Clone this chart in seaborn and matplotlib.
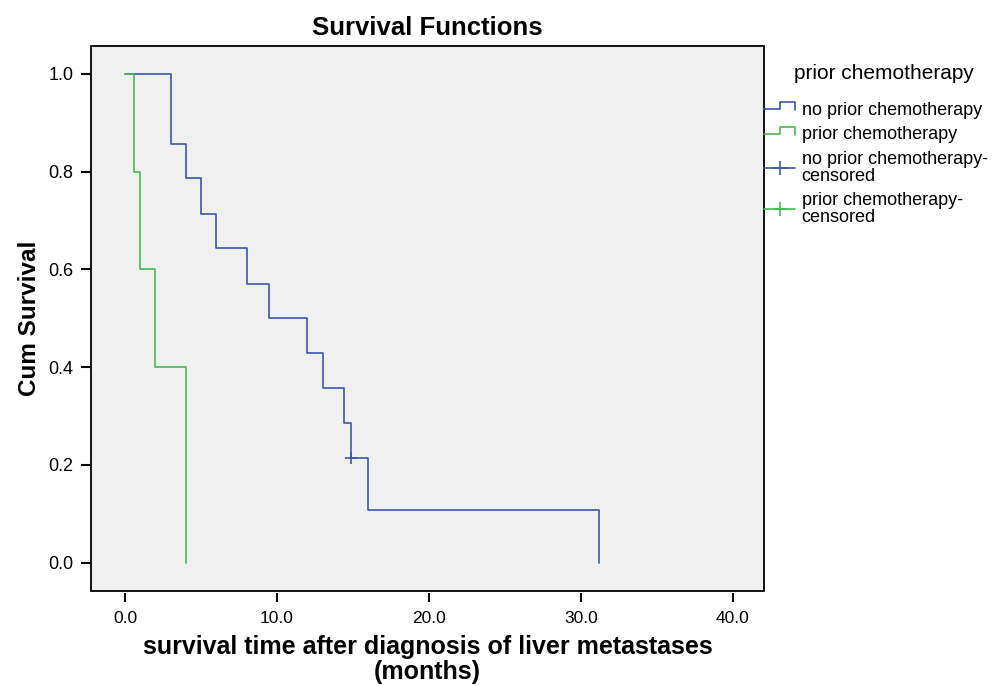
import pandas as pd
import seaborn as sns
import matplotlib.pyplot as plt
from matplotlib.lines import Line2D
from matplotlib.patches import Rectangle
from matplotlib.legend_handler import HandlerBase

# Kaplan-Meier step values
no_prior_time = [0, 3, 4, 5, 6, 8, 9.5, 12, 13, 14.4, 14.9, 16, 31.2]
no_prior_surv = [1.0, 0.857, 0.786, 0.714, 0.643, 0.571, 0.5, 0.429, 0.357, 0.286, 0.214, 0.107, 0.0]
prior_time = [0, 0.6, 1, 2, 4]
prior_surv = [1.0, 0.8, 0.6, 0.4, 0.0]
censor_time = [14.9]
censor_surv = [0.214]

groups = ["no prior chemotherapy", "prior chemotherapy"]
x_ticks = [0, 10, 20, 30, 40]
y_ticks = [0.0, 0.2, 0.4, 0.6, 0.8, 1.0]

blue = "#3d56b2"
green = "#45bb55"

df = pd.concat([
    pd.DataFrame({"time": no_prior_time, "surv": no_prior_surv, "group": groups[0]}),
    pd.DataFrame({"time": prior_time, "surv": prior_surv, "group": groups[1]}),
], ignore_index=True)

sns.set_style("ticks")
plt.rcParams["font.family"] = ["Liberation Sans", "DejaVu Sans"]
plt.rcParams.update({"text.color": "black", "axes.labelcolor": "black",
                     "xtick.color": "black", "ytick.color": "black"})

fig = plt.figure(figsize=(10.05, 6.86), dpi=100)
ax = fig.add_axes([0.0905, 0.139, 0.6695, 0.794])
ax.set_facecolor("#f0f0f0")

sns.lineplot(data=df, x="time", y="surv", hue="group",
             palette={groups[0]: blue, groups[1]: green},
             estimator=None, sort=False, drawstyle="steps-post",
             linewidth=1.2, legend=False, ax=ax)
sns.scatterplot(x=censor_time, y=censor_surv, marker="+", s=64,
                color=blue, linewidth=1.2, ax=ax, zorder=3)

ax.set_xlim(-2.24, 42.04)
ax.set_ylim(-0.057, 1.057)
ax.set_xticks(x_ticks)
ax.set_xticklabels([f"{t:.1f}" for t in x_ticks])
ax.set_yticks(y_ticks)
ax.set_yticklabels([f"{t:.1f}" for t in y_ticks])
ax.tick_params(axis="y", labelsize=13, length=7.2, width=1.5, pad=5.5)
ax.tick_params(axis="x", labelsize=12.5, length=6.5, width=1.5, pad=6.5)

# frame drawn as a patch so the x ticks can sit slightly below it
for s in ax.spines.values():
    s.set_visible(False)
ax.spines["bottom"].set_position(("outward", 2))
ax.add_patch(Rectangle((0, 0), 1, 1, transform=ax.transAxes, fill=False,
                       lw=1.3, ec="black", clip_on=False, zorder=5))

ax.set_title("Survival Functions", fontsize=18.5, fontweight="bold", pad=8)
ax.set_xlabel("survival time after diagnosis of liver metastases\n(months)",
              fontsize=18, fontweight="bold", labelpad=6, linespacing=1.08)
ax.set_ylabel("Cum Survival", fontsize=17.5, fontweight="bold", labelpad=5)


class StepHandler(HandlerBase):
    def create_artists(self, legend, orig_handle, xd, yd, w, h, fontsize, trans):
        c = orig_handle.get_color()
        xs = [-xd, -xd + 0.5 * w, -xd + 0.5 * w, -xd + w, -xd + w]
        ys = [-yd + 0.42 * h, -yd + 0.42 * h, -yd + 0.98 * h, -yd + 0.98 * h, -yd + 0.35 * h]
        ln = Line2D(xs, ys, color=c, linewidth=1.2, transform=trans)
        return [ln]


h_blue = Line2D([], [], color=blue)
h_green = Line2D([], [], color=green)
h_cblue = Line2D([], [], color=blue, marker="+", markersize=10,
                 markeredgewidth=1.2, linewidth=1.2)
h_cgreen = Line2D([], [], color=green, marker="+", markersize=10,
                  markeredgewidth=1.2, linewidth=1.2)

leg = ax.legend([h_blue, h_green, h_cblue, h_cgreen],
                ["no prior chemotherapy", "prior chemotherapy",
                 "no prior chemotherapy-\ncensored", "prior chemotherapy-\ncensored"],
                title="prior chemotherapy", title_fontsize=15, fontsize=13,
                loc="upper left", bbox_to_anchor=(1.0, 0.966), borderaxespad=0,
                borderpad=0, frameon=False, handlelength=1.75, handletextpad=0.35,
                labelspacing=0.42, alignment="center",
                handler_map={h_blue: StepHandler(), h_green: StepHandler()})
for t in leg.get_texts():
    t.set_linespacing(1.0)
leg._legend_box.sep = 13
leg.get_title().set_position((8, 0))

fig.savefig("out.png", dpi=100)
